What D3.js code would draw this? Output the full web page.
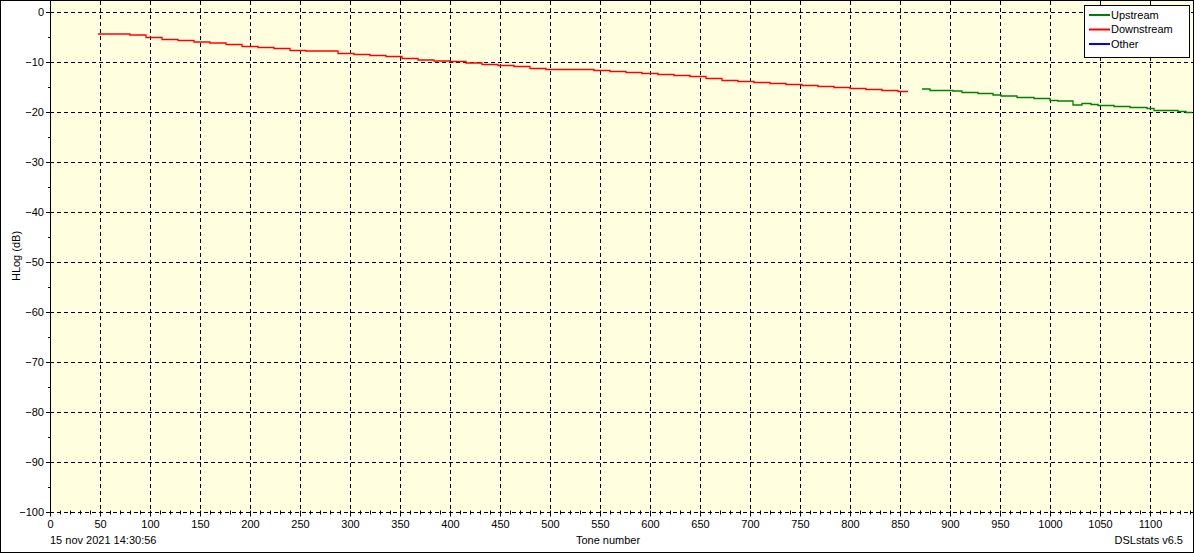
<!DOCTYPE html>
<html>
<head>
<meta charset="utf-8">
<script src="https://cdn.jsdelivr.net/npm/d3@7"></script>
<style>
  html, body { margin: 0; padding: 0; background: #ffffff; }
  svg { display: block; }
  text { font-family: "Liberation Sans", Arial, sans-serif; font-size: 11px; fill: #000; }
</style>
</head>
<body>
<svg id="chart" width="1194" height="553"></svg>
<script>
// step points: tone where a new value starts, value in dB
var downTones = [48, 80, 96, 112, 128, 144, 160, 176, 192, 208, 224, 240, 256, 288, 304, 320, 336, 352, 368, 384,
  400, 416, 432, 448, 464, 480, 496, 544, 560, 576, 592, 608, 624, 640, 656, 672, 688, 704, 720, 736,
  752, 768, 784, 800, 816, 832, 848, 858];
var downValues = [-4.4, -4.6, -5.1, -5.5, -5.7, -6.0, -6.2, -6.5, -6.9, -7.1, -7.3, -7.7, -7.8, -8.3, -8.5, -8.7, -8.9, -9.3, -9.6, -9.8,
  -9.9, -10.2, -10.5, -10.7, -10.9, -11.3, -11.5, -11.7, -11.9, -12.1, -12.3, -12.5, -12.7, -12.9, -13.3, -13.7, -13.9, -14.1, -14.3, -14.5,
  -14.7, -14.9, -15.1, -15.3, -15.5, -15.7, -15.9, -15.9];

var upTones = [872, 880, 903, 912, 928, 943, 951, 967, 984, 1000, 1008, 1023, 1032, 1041, 1048, 1064, 1080, 1097, 1104, 1128, 1136, 1142];
var upValues = [-15.4, -15.7, -15.8, -16.1, -16.3, -16.6, -16.8, -17.1, -17.3, -17.7, -17.8, -18.6, -18.3, -18.5, -18.7, -18.9, -19.1, -19.3, -19.7, -19.9, -20.1, -20.1];

var legendNames = ["Upstream", "Downstream", "Other"];
var legendColors = ["#008000", "#ff0000", "#0000ff"];

var xTicks = d3.range(0, 1101, 50);
var xMinor = d3.range(0, 1142, 10);
var yTicks = d3.range(-100, 1, 10);
var yMinor = d3.range(-95, 1, 10);

var svg = d3.select('#chart');
var width = 1194, height = 553;
var plotLeft = 50, plotRight = 1193, plotTop = 1, plotBottom = 512;

var x = d3.scaleLinear().domain([0, 1143]).range([plotLeft, plotRight]);
var y = d3.scaleLinear().domain([-100, 2.2]).range([plotBottom, plotTop]);

// outer frame
svg.append("rect")
  .attr("x", 0.5).attr("y", 0.5)
  .attr("width", width - 1).attr("height", height - 1)
  .attr("fill", "#ffffff").attr("stroke", "#000");

// plot background
svg.append("rect")
  .attr("x", plotLeft).attr("y", plotTop)
  .attr("width", plotRight - plotLeft).attr("height", plotBottom - plotTop)
  .attr("fill", "#ffffe0");

svg.append("clipPath").attr("id", "plotclip")
  .append("rect")
  .attr("x", plotLeft).attr("y", plotTop)
  .attr("width", plotRight - plotLeft).attr("height", plotBottom - plotTop);

// grid
var grid = svg.append("g")
  .attr("stroke", "#000")
  .attr("stroke-dasharray", "4,3")
  .attr("shape-rendering", "crispEdges");

grid.selectAll(".vg")
  .data(xTicks.filter(function(d) { return d > 0; }))
  .enter().append("line")
  .attr("x1", function(d) { return Math.round(x(d)) + 0.5; })
  .attr("x2", function(d) { return Math.round(x(d)) + 0.5; })
  .attr("y1", plotTop).attr("y2", plotBottom);

grid.selectAll(".hg")
  .data(yTicks)
  .enter().append("line")
  .attr("x1", plotLeft).attr("x2", plotRight)
  .attr("y1", function(d) { return Math.round(y(d)) + 0.5; })
  .attr("y2", function(d) { return Math.round(y(d)) + 0.5; });

// left axis
var yAxis = svg.append("g").attr("transform", "translate(" + plotLeft + ",0)");
yAxis.call(d3.axisLeft(y).tickValues(yTicks).tickSize(4).tickPadding(2).tickFormat(d3.format("d")))
  .call(g => g.select(".domain").remove())
  .call(g => g.selectAll(".tick line").attr("stroke", "#000"))
  .call(g => g.selectAll(".tick text")
    .attr("font-family", null).attr("font-size", null).attr("fill", "#000"));

yAxis.selectAll(".minor")
  .data(yMinor)
  .enter().append("line")
  .attr("x1", -2).attr("x2", 0)
  .attr("y1", function(d) { return Math.round(y(d)) + 0.5; })
  .attr("y2", function(d) { return Math.round(y(d)) + 0.5; })
  .attr("stroke", "#000");

svg.append("line")
  .attr("x1", plotLeft + 0.5).attr("x2", plotLeft + 0.5)
  .attr("y1", plotTop).attr("y2", plotBottom + 1)
  .attr("stroke", "#000");

// bottom axis
var xAxis = svg.append("g").attr("transform", "translate(0," + (plotBottom + 0.5) + ")");
xAxis.call(d3.axisBottom(x).tickValues(xTicks).tickSize(4).tickPadding(4).tickFormat(d3.format("d")))
  .call(g => g.select(".domain").remove())
  .call(g => g.selectAll(".tick line").attr("stroke", "#000"))
  .call(g => g.selectAll(".tick text")
    .attr("font-family", null).attr("font-size", null).attr("fill", "#000"));

xAxis.selectAll(".minor")
  .data(xMinor)
  .enter().append("line")
  .attr("x1", function(d) { return Math.round(x(d)) + 0.5; })
  .attr("x2", function(d) { return Math.round(x(d)) + 0.5; })
  .attr("y1", -2).attr("y2", 2)
  .attr("stroke", "#000");

// series
var line = d3.line()
  .x(function(d) { return x(d[0]); })
  .y(function(d) { return y(d[1]); })
  .curve(d3.curveStepAfter);

var plot = svg.append("g").attr("clip-path", "url(#plotclip)");

plot.append("path")
  .datum(d3.zip(downTones, downValues))
  .attr("d", line)
  .attr("fill", "none")
  .attr("stroke", legendColors[1])
  .attr("stroke-width", 1.3);

plot.append("path")
  .datum(d3.zip(upTones, upValues))
  .attr("d", line)
  .attr("fill", "none")
  .attr("stroke", legendColors[0])
  .attr("stroke-width", 1.3);

// legend
var legend = svg.append("g");
legend.append("rect")
  .attr("x", 1084.5).attr("y", 5.5)
  .attr("width", 105).attr("height", 52)
  .attr("fill", "#ffffff").attr("stroke", "#000");

legend.selectAll(".lline")
  .data(legendNames)
  .enter().append("line")
  .attr("x1", 1089).attr("x2", 1110)
  .attr("y1", function(d, i) { return 15 + i * 14.5; })
  .attr("y2", function(d, i) { return 15 + i * 14.5; })
  .attr("stroke", function(d, i) { return legendColors[i]; })
  .attr("stroke-width", 2);

legend.selectAll(".ltext")
  .data(legendNames)
  .enter().append("text")
  .attr("x", 1111)
  .attr("y", function(d, i) { return 15 + i * 14.5; })
  .attr("dy", "0.35em")
  .text(function(d) { return d; });

// labels
svg.append("text")
  .attr("transform", "translate(20," + 256 + ") rotate(-90)")
  .style("text-anchor", "middle")
  .text("HLog (dB)");

svg.append("text")
  .attr("x", 608).attr("y", 544)
  .style("text-anchor", "middle")
  .text("Tone number");

svg.append("text")
  .attr("x", 50).attr("y", 544)
  .text("15 nov 2021 14:30:56");

svg.append("text")
  .attr("x", 1183).attr("y", 544)
  .style("text-anchor", "end")
  .text("DSLstats v6.5");
</script>
</body>
</html>
